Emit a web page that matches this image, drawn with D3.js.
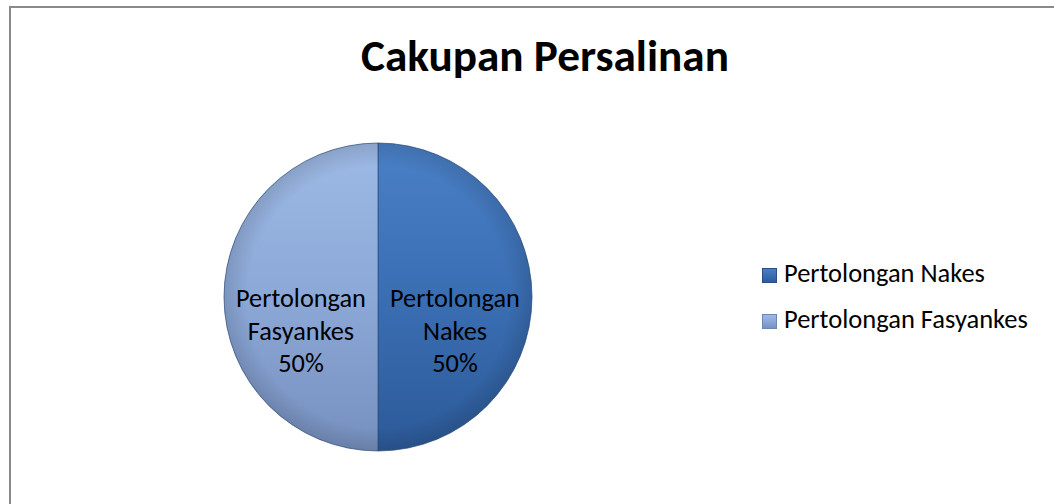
<!DOCTYPE html>
<html><head><meta charset="utf-8">
<script src="https://cdn.jsdelivr.net/npm/d3@7"></script>
<style>html,body{margin:0;padding:0;background:#fff;}svg{display:block;}</style>
</head><body>
<script>
const title = "Cakupan Persalinan";
const categories = ["Pertolongan Nakes", "Pertolongan Fasyankes"];
const labelLines = [["Pertolongan", "Nakes"], ["Pertolongan", "Fasyankes"]];
const values = [50, 50];

const W = 1054, H = 504;
const FONT = "Carlito, Calibri, Lato, 'Open Sans', sans-serif";
const svg = d3.select("body").append("svg").attr("width", W).attr("height", H);

// fit helper: set font size so text width matches target
function fit(sel, target) {
  const n = sel.node();
  let fs = parseFloat(sel.attr("font-size"));
  const w = n.getComputedTextLength();
  if (w > 0) sel.attr("font-size", (fs * target / w).toFixed(2));
}

const defs = svg.append("defs");
const grads = [
  {id: "g0", stops: ["#4a80c7", "#3a6eb3", "#2c5a98"]},
  {id: "g1", stops: ["#9db9e4", "#8ca8d7", "#7690be"]}
];
grads.forEach(g => {
  const lg = defs.append("linearGradient").attr("id", g.id).attr("x1", 0).attr("y1", 0).attr("x2", 0).attr("y2", 1);
  g.stops.forEach((c, i) => lg.append("stop").attr("offset", i / (g.stops.length - 1)).attr("stop-color", c));
});
const rg = defs.append("radialGradient").attr("id", "edge").attr("cx", 0.5).attr("cy", 0.5).attr("r", 0.5);
rg.append("stop").attr("offset", 0.85).attr("stop-color", "#000").attr("stop-opacity", 0);
rg.append("stop").attr("offset", 1).attr("stop-color", "#000").attr("stop-opacity", 0.12);

// border
svg.append("rect").attr("x", 10).attr("y", 7).attr("width", W + 20).attr("height", H + 20)
  .attr("fill", "none").attr("stroke", "#8a8a8a").attr("stroke-width", 2);

// title
const t = svg.append("text").attr("x", 545).attr("y", 71).attr("text-anchor", "middle")
  .attr("font-family", FONT).attr("font-weight", "bold").attr("font-size", 36).attr("fill", "#000").text(title);
fit(t, 368);

// pie
const cx = 378, cy = 297, R = 154;
const pie = d3.pie().sort(null).value(d => d);
const arcs = pie(values);
const arc = d3.arc().innerRadius(0).outerRadius(R);
const g = svg.append("g").attr("transform", `translate(${cx},${cy})`);
g.selectAll("path.slice").data(arcs).join("path").attr("class", "slice")
  .attr("d", arc)
  .attr("fill", (d, i) => `url(#g${i})`)
  .attr("stroke", "#2d4d7c").attr("stroke-width", 1).attr("stroke-opacity", 0.7);
g.append("circle").attr("r", R).attr("fill", "url(#edge)");

const labelArc = d3.arc().innerRadius(R / 2).outerRadius(R / 2);
const lineH = 32.5;
arcs.forEach((a, i) => {
  const [lx, ly] = labelArc.centroid(a);
  const lines = labelLines[i].concat([d3.format(".0%")(a.data / d3.sum(values))]);
  const txt = g.append("text").attr("text-anchor", "middle").attr("font-family", FONT)
    .attr("font-size", 21).attr("fill", "#000");
  lines.forEach((ln, j) => {
    txt.append("tspan").attr("x", lx).attr("y", ly + 10 + j * lineH).text(ln);
  });
  // fit font size based on first line width
  const w = txt.select("tspan").node().getComputedTextLength();
  txt.attr("font-size", (21 * 130 / w).toFixed(2));
});

// legend
const leg = svg.append("g").attr("transform", "translate(762,268)");
const rowH = 46;
categories.forEach((c, i) => {
  const row = leg.append("g").attr("transform", `translate(0,${i * rowH})`);
  row.append("rect").attr("x", 0.5).attr("y", 0.5).attr("width", 14).attr("height", 14)
    .attr("fill", `url(#g${i})`).attr("stroke", i === 0 ? "#2a4f84" : "#6d86b3").attr("stroke-width", 1);
  const lt = row.append("text").attr("x", 22).attr("y", 14).attr("font-family", FONT)
    .attr("font-size", 21).attr("fill", "#000").text(c);
  fit(lt, i === 0 ? 201 : 244);
});
</script>
</body></html>
